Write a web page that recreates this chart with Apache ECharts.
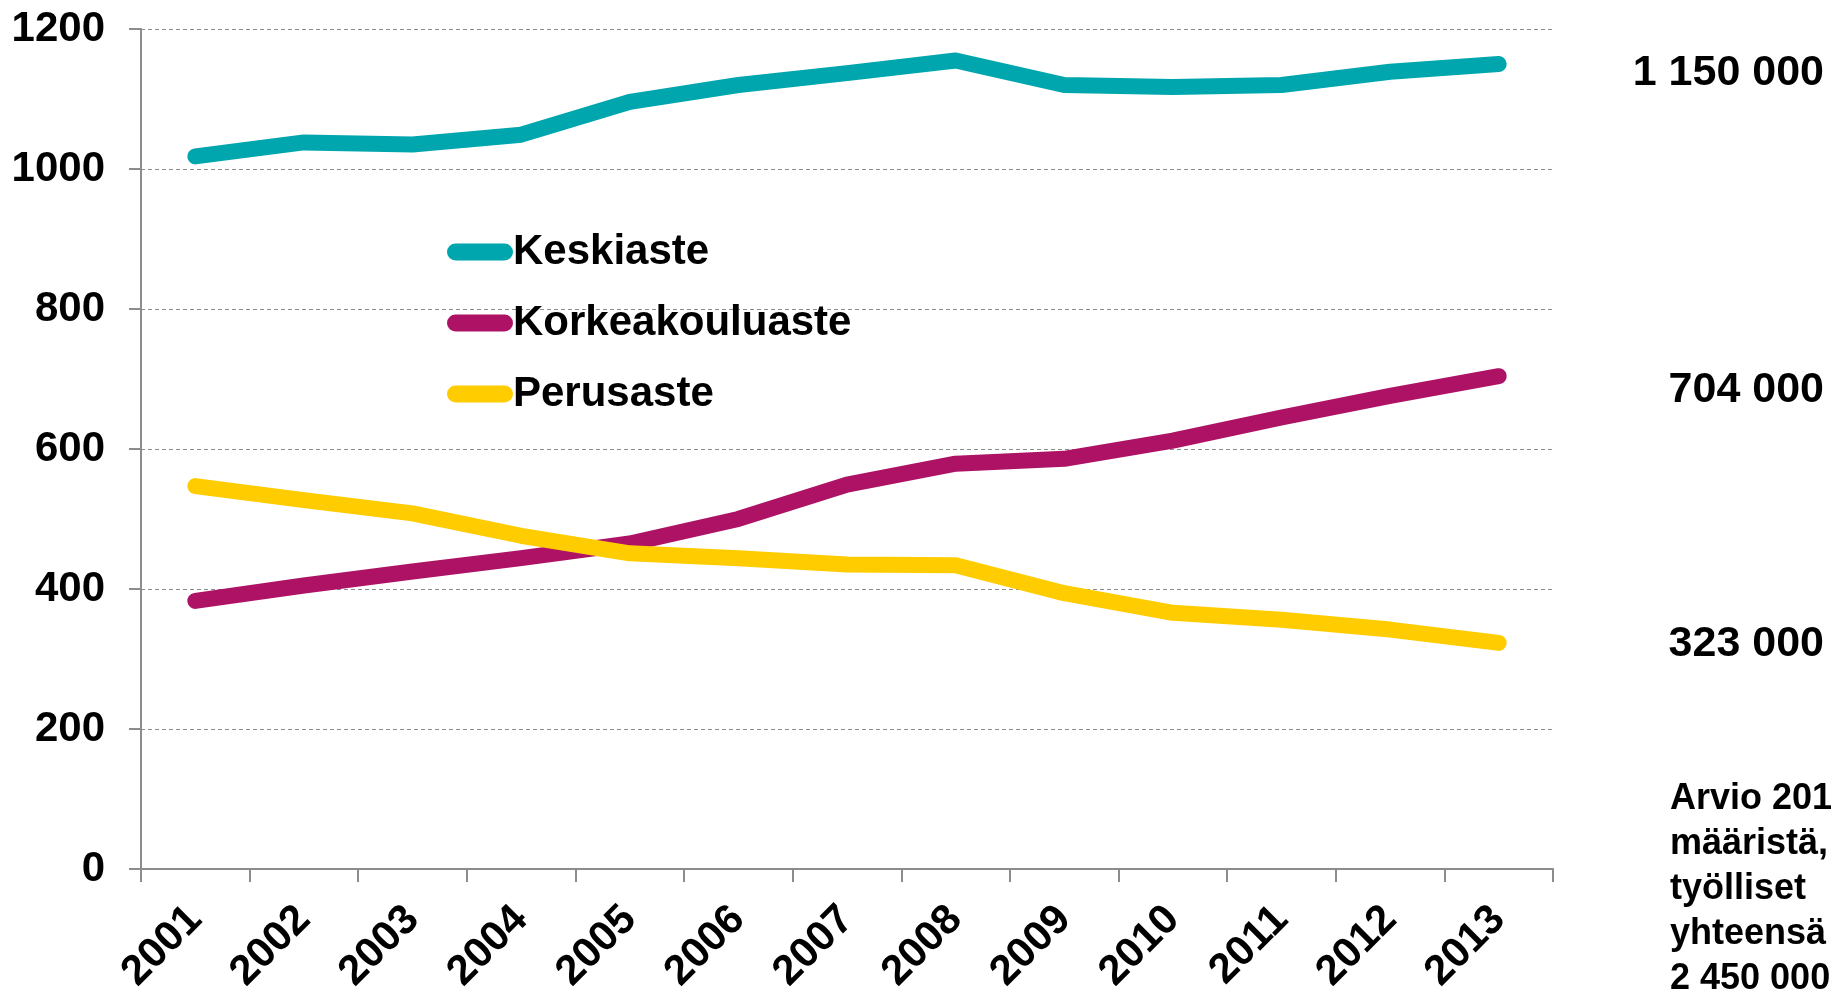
<!DOCTYPE html>
<html>
<head>
<meta charset="utf-8">
<title>Työlliset koulutusasteen mukaan</title>
<script src="https://cdn.jsdelivr.net/npm/echarts@6/dist/echarts.min.js"></script>
<style>
  html, body { margin: 0; padding: 0; background: #fff; }
  #chart { width: 1831px; height: 996px; }
</style>
</head>
<body>
<div id="chart"></div>
<script>
const years = ['2001', '2002', '2003', '2004', '2005', '2006', '2007', '2008', '2009', '2010', '2011', '2012', '2013'];
const keskiaste = [1018, 1038, 1035, 1049, 1096, 1120, 1137, 1155, 1120, 1117, 1120, 1139, 1150];
const korkeakouluaste = [383, 405, 425, 444, 465, 500, 549, 579, 586, 612, 645, 676, 704];
const perusaste = [547, 527, 508, 476, 451, 444, 435, 434, 394, 366, 356, 342, 323];
const yTicks = [0, 200, 400, 600, 800, 1000, 1200];
const endLabels = ['1 150 000', '704 000', '323 000'];
const note = ['Arvio 2013', 'määristä,', 'työlliset', 'yhteensä', '2 450 000'];

const font = 'Liberation Sans, Arial, sans-serif';
const gray = '#8c8c8c';
const pill = 'path://M8.5,0 H57.5 A8.5,8.5 0 0 1 57.5,17 H8.5 A8.5,8.5 0 0 1 8.5,0 Z';

const chart = echarts.init(document.getElementById('chart'));

const lineSeries = (name, data, color) => ({
    name,
    type: 'line',
    data,
    symbol: 'none',
    color,
    itemStyle: { color },
    lineStyle: { width: 16, color, cap: 'round', join: 'round' },
    animation: false
});

// value labels at the right end of each line
const endY = [73, 390, 644];
const graphics = endLabels.map((t, i) => ({
    type: 'text',
    style: {
        text: t, x: 1824, y: endY[i],
        align: 'right', verticalAlign: 'middle',
        font: 'bold 43px ' + font, fill: '#000'
    }
}));
graphics.push({
    type: 'text',
    style: {
        text: note.join('\n'), x: 1670, y: 777,
        font: 'bold 36px ' + font, lineHeight: 45, fill: '#000'
    }
});

chart.setOption({
    backgroundColor: '#fff',
    animation: false,
    grid: { left: 141, right: 278, top: 29, bottom: 123 },
    legend: {
        orient: 'vertical',
        left: 442,
        top: 222,
        itemWidth: 66,
        itemHeight: 17,
        itemGap: 21,
        icon: pill,
        textStyle: { fontFamily: font, fontWeight: 'bold', fontSize: 42, color: '#000', lineHeight: 50, padding: [0, 0, 0, -5] },
        data: ['Keskiaste', 'Korkeakouluaste', 'Perusaste']
    },
    xAxis: {
        type: 'category',
        data: years,
        boundaryGap: true,
        axisLine: { show: true, lineStyle: { color: gray, width: 2 } },
        axisTick: { show: true, length: 13, lineStyle: { color: gray, width: 2 } },
        axisLabel: { rotate: 45, margin: 44, fontFamily: font, fontWeight: 'bold', fontSize: 42, color: '#000' }
    },
    yAxis: {
        type: 'value',
        min: yTicks[0],
        max: yTicks[yTicks.length - 1],
        interval: yTicks[1] - yTicks[0],
        axisLine: { show: true, lineStyle: { color: gray, width: 2 } },
        axisTick: { show: true, length: 12, lineStyle: { color: gray, width: 2 } },
        axisLabel: {
            margin: 36, fontFamily: font, fontWeight: 'bold', fontSize: 42, color: '#000',
            formatter: v => String(v)
        },
        splitLine: { show: true, lineStyle: { color: gray, width: 1, type: [4, 3] } }
    },
    series: [
        lineSeries('Keskiaste', keskiaste, '#00a6ae'),
        lineSeries('Korkeakouluaste', korkeakouluaste, '#ae1265'),
        lineSeries('Perusaste', perusaste, '#ffcc00')
    ],
    graphic: graphics
});

window.addEventListener('resize', () => chart.resize());
</script>
</body>
</html>
